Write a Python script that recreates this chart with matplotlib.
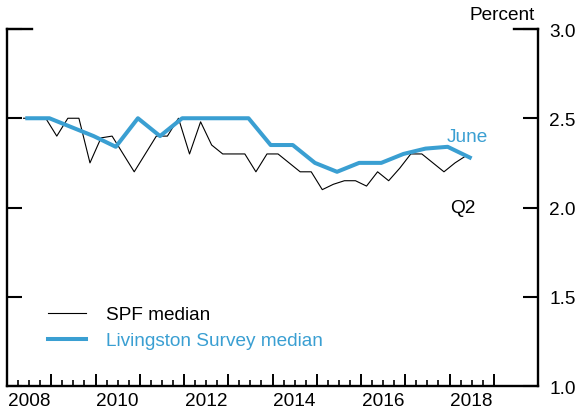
import numpy as np
import matplotlib
matplotlib.use('Agg')
from matplotlib import pyplot as plt

plt.rcParams['font.family'] = ['Liberation Sans', 'DejaVu Sans']
plt.rcParams['font.size'] = 13.7

blue = '#3a9fd2'

# Livingston survey, June and December, June 2008 - June 2018
liv_dates = [y + m for y in range(2008, 2019) for m in (5.5 / 12, 11.5 / 12)][:-1]
liv_values = [2.5, 2.5, 2.45, 2.40, 2.34, 2.5, 2.4, 2.5, 2.5, 2.5, 2.5,
              2.35, 2.35, 2.25, 2.2, 2.25, 2.25, 2.3, 2.33, 2.34, 2.28]

# SPF median, quarterly, 2008Q2 - 2018Q2
spf_dates = [y + (q - 0.5) / 4 for y in range(2008, 2019) for q in (1, 2, 3, 4)][1:-2]
spf_values = [2.5, 2.5, 2.5,
              2.4, 2.5, 2.5, 2.25,
              2.39, 2.40, 2.3, 2.2,
              2.3, 2.4, 2.4, 2.5,
              2.3, 2.48, 2.35, 2.3,
              2.3, 2.3, 2.2, 2.3,
              2.3, 2.25, 2.2, 2.2,
              2.1, 2.13, 2.15, 2.15,
              2.12, 2.2, 2.15, 2.22,
              2.3, 2.3, 2.25, 2.2,
              2.25, 2.29]

year_labels = [2008, 2010, 2012, 2014, 2016, 2018]

fig = plt.figure(figsize=(5.76, 4.14), dpi=100)
ax = fig.add_axes([7 / 576, 1 - 387 / 414, 531 / 576, 357 / 414])

ax.plot(spf_dates, spf_values, color='black', lw=0.8, label='SPF median')
ax.plot(liv_dates, liv_values, color=blue, lw=2.9, label='Livingston Survey median')

ax.set_xlim(2008, 2020)
ax.set_ylim(1.0, 3.0)

ax.set_xticks(np.arange(2008, 2020))
ax.set_xticks(np.arange(2008, 2019.01, 0.25), minor=True)
ax.set_xticklabels([])
ax.tick_params(axis='x', which='major', direction='in', length=9, width=1.4)
ax.tick_params(axis='x', which='minor', direction='in', length=4.5, width=1.2)
for yr in year_labels:
    ax.annotate(str(yr), (yr + 0.5, 0), xycoords=ax.get_xaxis_transform(),
                xytext=(0, -4), textcoords='offset points', ha='center', va='top')

ax.set_yticks([1.0, 1.5, 2.0, 2.5, 3.0])
ax.set_yticklabels(['1.0', '1.5', '2.0', '2.5', '3.0'])
ax.tick_params(axis='y', direction='in', length=10.5, width=1.5, left=True, right=True,
               labelleft=False, labelright=True, pad=8)

for s in ['left', 'right', 'bottom']:
    ax.spines[s].set_linewidth(1.7)
ax.spines['top'].set_visible(False)
ax.plot([0, 25 / 531], [1, 1], transform=ax.transAxes, color='black', lw=1.7, clip_on=False,
        solid_capstyle='projecting')
ax.plot([1 - 24 / 531, 1], [1, 1], transform=ax.transAxes, color='black', lw=1.7, clip_on=False,
        solid_capstyle='projecting')

ax.text(1 - 3 / 531, 1 + 14 / 357, 'Percent', transform=ax.transAxes, ha='right', va='center')
ax.text(2018.4, 2.4, 'June', color=blue, ha='center', va='center')
ax.text(2018.3, 2.0, 'Q2', color='black', ha='center', va='center')

ax.legend(loc='upper left', bbox_to_anchor=((48 - 7) / 531, (387 - 307) / 357), frameon=False,
          borderpad=0, borderaxespad=0, handlelength=2.0, handletextpad=1.05, labelspacing=0.46,
          labelcolor=['black', blue])

fig.savefig('out.png', dpi=100)
